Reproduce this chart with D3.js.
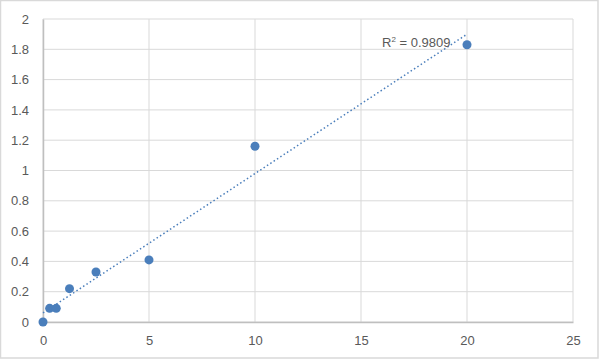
<!DOCTYPE html>
<html>
<head>
<meta charset="utf-8">
<script src="https://cdn.jsdelivr.net/npm/d3@7"></script>
<style>
  body { margin: 0; background: #fff; }
  text { font-family: "Liberation Sans", sans-serif; }
</style>
</head>
<body>
<div id="container"></div>
<script>
let w = 600;
let h = 361;

// data
let concentrations = [0, 0.3125, 0.625, 1.25, 2.5, 5, 10, 20];
let readings = [0, 0.09, 0.09, 0.22, 0.33, 0.41, 1.16, 1.83];
let xTicks = [0, 5, 10, 15, 20, 25];
let yTicks = [0, 0.2, 0.4, 0.6, 0.8, 1, 1.2, 1.4, 1.6, 1.8, 2];
let r2Label = "0.9809";

let margin = {left: 43, right: 27, top: 19, bottom: 39};

let viz = d3.select("#container")
  .append("svg")
    .attr("width", w)
    .attr("height", h)
    .style("background-color", "white")
;

// outer chart border
viz.append("rect")
  .attr("x", 0.5).attr("y", 0.5)
  .attr("width", w - 2.5).attr("height", h - 3.5)
  .attr("fill", "none")
  .attr("stroke", "#d9d9d9")
  .attr("stroke-width", 1.5)
;

let xScale = d3.scaleLinear().domain([0, 25]).range([margin.left, w - margin.right]);
let yScale = d3.scaleLinear().domain([0, 2]).range([h - margin.bottom, margin.top]);

// gridlines
viz.selectAll(".vgrid").data(xTicks).enter()
  .append("line")
    .attr("x1", d => xScale(d)).attr("x2", d => xScale(d))
    .attr("y1", yScale(0)).attr("y2", yScale(2))
    .attr("stroke", "#d9d9d9")
;
viz.selectAll(".hgrid").data(yTicks).enter()
  .append("line")
    .attr("x1", xScale(0)).attr("x2", xScale(25))
    .attr("y1", d => yScale(d)).attr("y2", d => yScale(d))
    .attr("stroke", "#d9d9d9")
;

// axes
let xAxis = d3.axisBottom(xScale).tickValues(xTicks).tickSize(0).tickPadding(14);
let yAxis = d3.axisLeft(yScale).tickValues(yTicks).tickSize(0).tickPadding(14)
  .tickFormat(d => d3.format("~g")(d));

let gx = viz.append("g").attr("transform", "translate(0," + yScale(0) + ")").call(xAxis);
let gy = viz.append("g").attr("transform", "translate(" + xScale(0) + ",0)").call(yAxis);
[gx, gy].forEach(g => {
  g.select(".domain").attr("stroke", "#bfbfbf").attr("stroke-width", 1.5);
  g.selectAll("text").attr("fill", "#595959").style("font-size", "13px")
    .style("font-family", "'Liberation Sans', sans-serif");
});

// linear trendline (least squares, like the spreadsheet)
let mx = d3.mean(concentrations), my = d3.mean(readings);
let sxy = d3.sum(concentrations, (d, i) => (d - mx) * (readings[i] - my));
let sxx = d3.sum(concentrations, d => (d - mx) * (d - mx));
let slope = sxy / sxx;
let intercept = my - slope * mx;
let xExtent = d3.extent(concentrations);

viz.append("line")
  .attr("x1", xScale(xExtent[0])).attr("y1", yScale(intercept + slope * xExtent[0]))
  .attr("x2", xScale(xExtent[1])).attr("y2", yScale(intercept + slope * xExtent[1]))
  .attr("stroke", "#4a7ebb")
  .attr("stroke-width", 1.5)
  .attr("stroke-dasharray", "1.5,2.5")
;

// points
viz.selectAll(".pt").data(concentrations).enter()
  .append("circle")
    .attr("cx", d => xScale(d))
    .attr("cy", (d, i) => yScale(readings[i]))
    .attr("r", 4.5)
    .attr("fill", "#4a7ebb")
;

// R² label
let lab = viz.append("text")
  .attr("x", 382).attr("y", 47)
  .attr("fill", "#595959")
  .style("font-size", "13px");
lab.append("tspan").text("R");
lab.append("tspan").text("2").attr("dy", -5).style("font-size", "8px");
lab.append("tspan").text(" = " + r2Label).attr("dy", 5);
</script>
</body>
</html>
